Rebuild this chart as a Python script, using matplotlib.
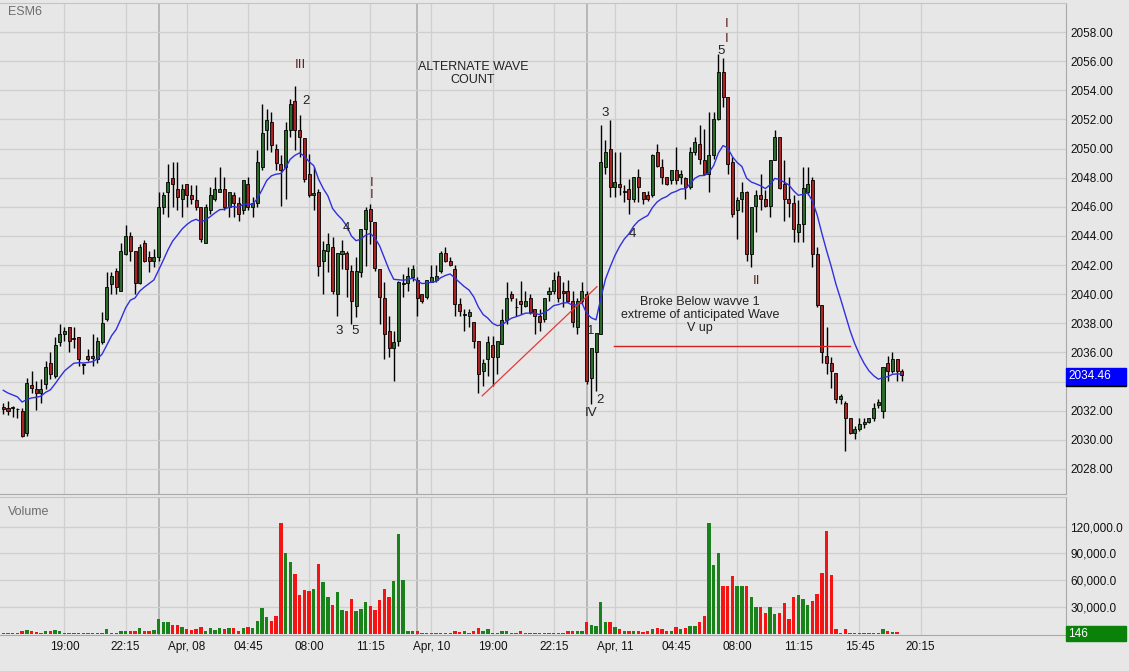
import numpy as np
import pandas as pd
import matplotlib
matplotlib.use("Agg")
import matplotlib.pyplot as plt
import matplotlib.transforms as mtransforms
from matplotlib.patches import Rectangle
from matplotlib.ticker import FuncFormatter

# --- DATA (15 min bars, ESM6) ---
opens = [
    2032.25, 2032.20, 2032.20, 2032.10, 2031.98, 2030.49, 2033.77, 2033.47, 2033.24, 2033.82,
    2035.26, 2034.39, 2036.69, 2037.26, 2037.76, 2037.00, 2037.03, 2035.20, 2035.77, 2035.60,
    2035.54, 2036.73, 2038.29, 2040.70, 2041.57, 2040.24, 2042.76, 2044.03, 2042.95, 2040.75,
    2043.52, 2042.54, 2042.31, 2042.54, 2045.98, 2047.00, 2048.00, 2047.24, 2046.55, 2047.54,
    2046.78, 2046.48, 2046.02, 2043.50, 2045.79, 2046.55, 2047.00, 2047.24, 2045.98, 2046.78,
    2046.25, 2045.79, 2047.54, 2046.02, 2046.25, 2048.77, 2051.25, 2051.83, 2049.99, 2048.96,
    2048.77, 2051.25, 2053.27, 2051.25, 2050.75, 2048.27, 2046.78, 2047.05, 2042.26, 2042.99,
    2043.27, 2040.01, 2042.76, 2042.81, 2041.57, 2039.21, 2041.50, 2044.49, 2045.82, 2044.99,
    2041.73, 2039.74, 2037.49, 2036.30, 2036.80, 2040.70, 2040.75, 2041.20, 2040.98, 2040.01,
    2039.78, 2040.82, 2040.98, 2041.62, 2042.81, 2042.31, 2041.73, 2039.32, 2038.60, 2038.52,
    2038.06, 2036.80, 2034.74, 2035.54, 2036.50, 2035.70, 2036.57, 2038.22, 2040.01, 2039.14,
    2039.51, 2039.21, 2039.74, 2038.98, 2038.52, 2038.29, 2040.01, 2040.24, 2041.27, 2040.20,
    2040.24, 2039.55, 2037.72, 2039.51, 2040.01, 2034.28, 2036.00, 2037.26, 2048.73, 2049.99,
    2047.35, 2047.58, 2047.05, 2047.24, 2046.55, 2048.04, 2047.01, 2046.78, 2046.78, 2049.76,
    2048.73, 2048.04, 2047.81, 2048.50, 2048.04, 2047.99, 2047.35, 2049.76, 2050.34, 2049.23,
    2048.27, 2049.53, 2052.06, 2055.27, 2053.55, 2049.07, 2045.75, 2046.55, 2047.01, 2042.77,
    2046.03, 2046.78, 2046.55, 2046.03, 2049.24, 2050.80, 2047.54, 2046.55, 2046.25, 2044.26,
    2044.83, 2047.01, 2047.81, 2042.77, 2039.28, 2035.77, 2035.31, 2034.56, 2032.79, 2032.56,
    2031.53, 2030.50, 2030.73, 2031.10, 2031.25, 2031.53, 2032.40, 2031.99, 2035.31, 2034.74,
    2035.54, 2034.74,
]
highs = [
    2032.55, 2032.70, 2032.30, 2032.20, 2032.20, 2034.28, 2034.74, 2034.05, 2034.16, 2035.40,
    2036.04, 2037.03, 2037.95, 2037.72, 2037.76, 2037.76, 2037.03, 2035.31, 2036.23, 2037.26,
    2037.03, 2038.75, 2041.50, 2041.50, 2041.80, 2043.50, 2044.76, 2044.26, 2042.95, 2043.45,
    2043.73, 2042.99, 2043.11, 2047.00, 2047.00, 2048.96, 2049.07, 2049.07, 2047.54, 2047.54,
    2047.47, 2047.47, 2046.02, 2046.20, 2047.35, 2048.04, 2048.77, 2048.04, 2047.00, 2047.00,
    2046.66, 2047.81, 2048.04, 2046.66, 2049.88, 2053.09, 2052.74, 2052.51, 2050.34, 2049.53,
    2051.83, 2053.43, 2054.28, 2052.28, 2050.75, 2049.65, 2048.73, 2047.24, 2043.68, 2044.19,
    2043.91, 2042.81, 2043.73, 2042.99, 2042.03, 2042.54, 2044.49, 2045.98, 2046.20, 2044.99,
    2041.73, 2040.82, 2038.52, 2037.49, 2040.93, 2041.39, 2041.85, 2042.03, 2041.16, 2040.01,
    2040.98, 2042.03, 2042.03, 2042.99, 2043.27, 2042.54, 2042.03, 2039.74, 2038.98, 2038.98,
    2038.06, 2036.80, 2035.54, 2037.15, 2037.15, 2036.80, 2038.98, 2040.82, 2040.24, 2039.74,
    2040.93, 2040.24, 2040.01, 2038.98, 2038.98, 2039.74, 2040.47, 2041.50, 2041.62, 2040.82,
    2040.98, 2040.24, 2039.74, 2040.82, 2040.24, 2036.34, 2037.37, 2051.60, 2050.57, 2051.94,
    2049.76, 2049.76, 2047.47, 2047.93, 2048.04, 2048.61, 2047.01, 2047.12, 2049.65, 2050.34,
    2049.30, 2048.04, 2048.55, 2050.11, 2048.50, 2048.04, 2050.11, 2050.80, 2051.60, 2051.37,
    2052.52, 2052.52, 2056.53, 2056.19, 2053.55, 2049.42, 2046.67, 2047.70, 2047.12, 2045.98,
    2047.13, 2048.27, 2047.13, 2049.24, 2051.26, 2050.80, 2049.24, 2048.04, 2046.78, 2046.44,
    2048.73, 2048.73, 2048.04, 2043.23, 2039.28, 2037.72, 2035.66, 2034.56, 2033.13, 2032.67,
    2031.53, 2030.96, 2031.53, 2031.53, 2031.53, 2032.56, 2032.79, 2034.97, 2035.77, 2036.00,
    2035.54, 2034.85,
]
lows = [
    2031.75, 2031.70, 2031.60, 2031.50, 2030.19, 2030.26, 2033.24, 2032.03, 2032.56, 2033.47,
    2034.16, 2034.28, 2036.46, 2036.80, 2036.00, 2036.34, 2035.08, 2034.50, 2035.42, 2035.08,
    2035.31, 2036.57, 2038.18, 2040.01, 2040.01, 2040.24, 2042.70, 2042.31, 2040.01, 2040.70,
    2042.19, 2041.50, 2041.85, 2042.31, 2045.52, 2045.29, 2045.98, 2045.75, 2045.29, 2045.98,
    2046.20, 2045.75, 2043.57, 2043.50, 2045.52, 2046.43, 2047.00, 2045.75, 2045.29, 2045.29,
    2045.06, 2045.52, 2045.75, 2045.29, 2045.98, 2048.50, 2049.88, 2049.76, 2048.50, 2046.05,
    2046.55, 2050.79, 2049.88, 2049.42, 2047.70, 2046.70, 2045.75, 2041.27, 2040.01, 2041.50,
    2040.01, 2038.52, 2041.73, 2039.78, 2037.95, 2038.41, 2041.16, 2041.96, 2043.45, 2041.57,
    2037.95, 2035.54, 2035.66, 2034.05, 2036.46, 2039.78, 2040.24, 2040.93, 2038.52, 2039.37,
    2039.67, 2040.82, 2040.82, 2041.43, 2042.19, 2041.96, 2038.52, 2038.52, 2037.49, 2037.72,
    2036.30, 2033.24, 2033.70, 2034.39, 2033.70, 2034.51, 2036.57, 2037.95, 2039.55, 2038.52,
    2038.64, 2039.09, 2038.64, 2037.26, 2037.49, 2038.06, 2039.55, 2040.01, 2039.44, 2039.10,
    2039.44, 2037.72, 2037.26, 2039.32, 2033.82, 2032.44, 2033.36, 2037.26, 2048.27, 2046.67,
    2046.67, 2046.78, 2046.32, 2045.52, 2046.32, 2046.32, 2046.20, 2046.43, 2046.67, 2048.73,
    2047.58, 2047.47, 2047.58, 2047.58, 2047.58, 2046.55, 2047.24, 2049.53, 2048.96, 2048.20,
    2047.01, 2049.30, 2051.94, 2052.86, 2048.27, 2045.29, 2043.80, 2045.63, 2042.31, 2041.85,
    2044.26, 2045.75, 2045.98, 2045.29, 2049.19, 2047.24, 2045.06, 2045.29, 2043.57, 2043.57,
    2043.57, 2046.78, 2041.85, 2039.10, 2035.31, 2034.51, 2033.59, 2032.56, 2032.44, 2029.23,
    2030.38, 2030.04, 2030.61, 2030.84, 2031.18, 2031.30, 2032.22, 2031.53, 2034.05, 2034.62,
    2034.05, 2034.05,
]
closes = [
    2032.10, 2032.00, 2032.22, 2032.12, 2030.26, 2033.93, 2033.54, 2033.24, 2033.47, 2035.00,
    2034.51, 2036.52, 2037.26, 2037.49, 2036.80, 2036.95, 2035.54, 2035.15, 2035.54, 2035.75,
    2036.80, 2037.99, 2040.52, 2041.27, 2040.47, 2042.95, 2044.03, 2043.00, 2040.75, 2043.27,
    2042.31, 2042.31, 2042.54, 2045.98, 2046.78, 2047.70, 2047.58, 2046.66, 2047.24, 2046.78,
    2046.55, 2045.98, 2043.80, 2046.02, 2046.78, 2047.24, 2047.24, 2045.98, 2047.00, 2046.25,
    2045.52, 2047.81, 2045.98, 2046.25, 2049.07, 2051.07, 2051.99, 2050.22, 2049.00, 2048.55,
    2051.25, 2053.09, 2051.30, 2050.79, 2047.93, 2046.78, 2046.96, 2041.96, 2043.04, 2043.45,
    2040.24, 2042.81, 2042.99, 2041.73, 2039.51, 2041.57, 2044.49, 2045.75, 2045.06, 2041.80,
    2039.78, 2037.26, 2036.30, 2036.73, 2040.82, 2040.75, 2041.27, 2041.73, 2039.74, 2039.51,
    2040.98, 2041.16, 2041.27, 2042.81, 2042.31, 2042.03, 2039.32, 2038.82, 2038.67, 2038.75,
    2036.80, 2034.51, 2035.31, 2036.73, 2035.70, 2036.80, 2038.22, 2039.74, 2039.74, 2039.10,
    2039.33, 2039.55, 2038.75, 2038.52, 2038.06, 2039.74, 2040.24, 2040.98, 2039.74, 2040.10,
    2039.55, 2038.06, 2039.51, 2040.24, 2034.05, 2036.34, 2037.37, 2049.07, 2049.76, 2047.35,
    2047.70, 2047.35, 2047.10, 2046.55, 2048.04, 2047.35, 2046.55, 2046.55, 2049.53, 2048.84,
    2048.04, 2047.58, 2048.55, 2047.81, 2048.27, 2047.35, 2049.76, 2050.45, 2049.30, 2048.27,
    2049.53, 2052.06, 2055.27, 2053.55, 2048.96, 2045.52, 2046.48, 2047.01, 2042.76, 2045.98,
    2046.78, 2046.55, 2046.03, 2049.24, 2050.80, 2047.31, 2046.55, 2046.25, 2044.49, 2044.79,
    2047.31, 2047.54, 2042.77, 2039.28, 2036.00, 2035.31, 2034.74, 2032.79, 2033.02, 2031.53,
    2030.50, 2030.73, 2031.07, 2031.20, 2031.53, 2032.22, 2032.60, 2034.97, 2034.74, 2035.54,
    2034.74, 2034.46,
]
volumes = [
    800, 800, 800, 1200, 4000, 5000, 3300, 2000, 1000, 3000,
    3300, 4400, 3300, 1500, 800, 800, 800, 800, 800, 800,
    800, 800, 5500, 1000, 1000, 4000, 4000, 3300, 3300, 6300,
    3300, 3300, 4400, 17400, 13000, 13000, 10700, 10700, 7800, 5200,
    4800, 5500, 7800, 4000, 6300, 4400, 6300, 5200, 6300, 6300,
    4000, 7000, 7800, 6300, 15000, 29000, 19000, 15000, 20700, 123700,
    90000, 80000, 67400, 44000, 49600, 47800, 50700, 78000, 57800, 41000,
    33000, 47400, 27400, 25600, 39600, 25600, 28500, 35600, 31000, 26700,
    38500, 50700, 41900, 59600, 111900, 60700, 4000, 3000, 4000, 1000,
    800, 800, 800, 800, 1500, 1000, 4000, 2000, 3000, 1000,
    3000, 6300, 3300, 5200, 1500, 800, 3000, 4000, 800, 1000,
    3000, 800, 1000, 1000, 800, 800, 800, 800, 1000, 1000,
    3000, 3000, 3000, 4000, 13300, 10700, 9600, 36000, 14000, 14000,
    7800, 5200, 4000, 4000, 4000, 3000, 2000, 3000, 5200, 6300,
    5200, 4000, 4000, 7800, 5200, 6300, 9600, 8500, 13300, 20700,
    123700, 76700, 90400, 53300, 54000, 65000, 53300, 54000, 53300, 41500,
    30000, 30000, 24000, 30700, 21900, 24000, 35200, 16300, 41900, 44000,
    39600, 33000, 37400, 45200, 68500, 115000, 65600, 6000, 1500, 5200,
    1000, 1000, 800, 800, 800, 800, 800, 5200, 3300, 2000,
    2000, 146,
]
ma_seed = 2033.6     # value of the average just before the first bar
last_price = 2034.46

# time axis labels (bar index -> label)
tick_pos = [13, 26, 39, 52, 65, 78, 91, 104, 117, 130, 143, 156, 169, 182, 195]
tick_lbl = ["19:00", "22:15", "Apr, 08", "04:45", "08:00", "11:15", "Apr, 10", "19:00",
            "22:15", "Apr, 11", "04:45", "08:00", "11:15", "15:45", "20:15"]
session_breaks = [33.2, 87.9, 124.0]

# drawn lines (bar index, price)
trend_x, trend_y = [101.8, 126.2], [2033.02, 2040.52]
level_x, level_y = [129.8, 180.0], [2036.46, 2036.46]

# wave labels: text, bar index, price, colour
MAROON = "#5c1f1f"
DARK = "#222222"
wave_labels = [
    ("III", 63.1, 2055.73, MAROON), ("2", 64.35, 2053.25, DARK),
    ("I", 78.4, 2047.65, MAROON), ("I", 78.4, 2046.8, MAROON),
    ("4", 72.85, 2044.58, DARK), ("3", 71.36, 2037.49, DARK), ("5", 74.76, 2037.49, DARK),
    ("3", 127.9, 2052.43, DARK), ("4", 133.65, 2044.17, DARK), ("1", 124.9, 2037.49, DARK),
    ("2", 126.85, 2032.75, DARK), ("IV", 124.9, 2031.85, DARK),
    ("5", 152.6, 2056.69, DARK), ("I", 153.85, 2058.55, MAROON), ("I", 153.85, 2057.52, MAROON),
    ("II", 160.2, 2040.94, MAROON),
]
notes = [
    ("ALTERNATE WAVE\nCOUNT", 99.85, 2055.18),
    ("Broke Below wavve 1\nextreme of anticipated Wave\nV up", 148.1, 2038.6),
]

# --- STYLE ---
BG = "#e7e7e7"
GRID = "#cfcfcf"
C_UP, C_DN = "#2c6a2c", "#a82424"
V_UP, V_DN = "#1a821a", "#f41414"
W, H = 1129, 671

plt.rcParams["font.family"] = ["Liberation Sans", "DejaVu Sans"]

o = np.array(opens); h = np.array(highs); l = np.array(lows); c = np.array(closes)
idx = np.arange(len(c))
up = c >= o
ema = pd.Series([ma_seed] + closes).ewm(span=14, adjust=False).mean().to_numpy()[1:]

fig = plt.figure(figsize=(W / 100, H / 100), dpi=100, facecolor=BG)

def px_axes(x0, y0, x1, y1):
    return fig.add_axes([x0 / W, 1 - y1 / H, (x1 - x0) / W, (y1 - y0) / H])

ax = px_axes(0, 3, 1066, 494)
axv = px_axes(0, 497, 1066, 635)

for a in (ax, axv):
    a.set_facecolor(BG)
    a.set_xlim(-0.7, 225.9)
    for xp in tick_pos:
        a.axvline(xp, color=GRID, lw=0.9, zorder=0)
    for xp in session_breaks:
        a.axvline(xp, color="#b3b3b3", lw=1.3, zorder=0)
    a.spines["left"].set_visible(False)
    a.spines["top"].set_color("#c4c4c4")
    a.spines["right"].set_color("#a9a9a9")
    a.spines["bottom"].set_color("#a9a9a9")
    a.yaxis.tick_right()
    a.tick_params(axis="y", length=0, pad=3, labelsize=8.5, labelcolor="#111111")

# price panel (the 2034 label sits under the last-price marker)
ax.set_ylim(2026.28, 2060.0)
ax.set_yticks(np.arange(2028, 2059, 2))
ax.yaxis.set_major_formatter(
    FuncFormatter(lambda v, p: "" if abs(v - 2034) < 0.01 else f"{v:.2f}"))
ax.grid(axis="y", color=GRID, lw=0.9, zorder=0)
ax.set_xticks([])

ax.vlines(idx, l, h, color="black", lw=1.0, zorder=3)
body_lo = np.minimum(o, c)
body_h = np.maximum(np.abs(c - o), 0.03)
ax.bar(idx, body_h, bottom=body_lo, width=0.64, color=np.where(up, C_UP, C_DN),
       edgecolor="black", linewidth=0.6, zorder=4)
ax.plot(idx, ema, color="#3030dd", lw=1.0, zorder=5)

ax.plot(trend_x, trend_y, color="#e23a3a", lw=0.9, zorder=6)
ax.plot(level_x, level_y, color="#d42020", lw=1.0, zorder=6)

for txt, xi, yi, col in wave_labels:
    ax.text(xi, yi, txt, color=col, fontsize=9.5, ha="center", va="center", zorder=7)
for txt, xi, yi in notes:
    ax.text(xi, yi, txt, color=DARK, fontsize=9, ha="center", va="center",
            linespacing=1.1, zorder=7)

# last price marker
btr = mtransforms.blended_transform_factory(ax.transAxes, ax.transData)
ax.add_patch(Rectangle((1.0, 2033.72), 60 / 1066, 0.14, transform=btr,
                       color="black", clip_on=False, zorder=8))
ax.add_patch(Rectangle((1.0, 2033.86), 60 / 1066, 1.1, transform=btr,
                       color="#0000ff", clip_on=False, zorder=8))
ax.text(1.0 + 2 / 1066, 2034.40, f"{last_price:.2f}", transform=btr, color="white",
        fontsize=8.5, ha="left", va="center", zorder=9)

# volume panel
axv.set_ylim(-1000, 153000)
axv.set_yticks([30000, 60000, 90000, 120000])
axv.yaxis.set_major_formatter(FuncFormatter(lambda v, p: f"{v:,.1f}"))
axv.grid(axis="y", color=GRID, lw=0.9, zorder=0)
axv.bar(idx, volumes, width=0.72, color=np.where(up, V_UP, V_DN), zorder=3)
axv.set_xticks(tick_pos)
axv.set_xticklabels(tick_lbl)
axv.tick_params(axis="x", length=0, pad=4, labelsize=8.5, labelcolor="#111111")

vtr = mtransforms.blended_transform_factory(axv.transAxes, axv.transData)
axv.add_patch(Rectangle((1.0, -8000), 60 / 1066, 16500, transform=vtr,
                        color="#0a820a", clip_on=False, zorder=8))
axv.text(1.0 + 2 / 1066, 0, str(volumes[-1]), transform=vtr, color="white",
         fontsize=8.5, ha="left", va="center", zorder=9)

fig.text(8 / W, 1 - 12 / H, "ESM6", color="#6e6e6e", fontsize=9, ha="left", va="center")
fig.text(8 / W, 1 - 512 / H, "Volume", color="#6e6e6e", fontsize=9, ha="left", va="center")

fig.savefig("out.png", dpi=100, facecolor=BG)
